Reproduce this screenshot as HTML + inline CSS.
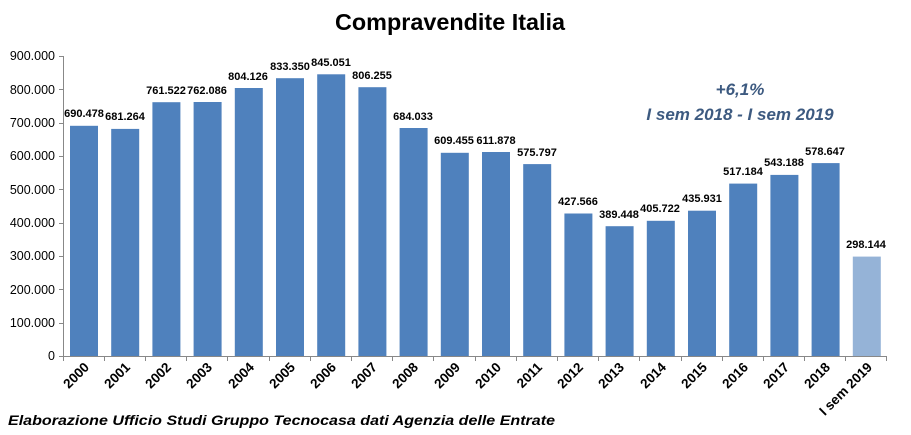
<!DOCTYPE html>
<html><head><meta charset="utf-8"><style>
html,body{margin:0;padding:0;background:#fff;}
svg{display:block;font-family:"Liberation Sans",sans-serif;}
.yl{font-size:12.5px;fill:#000;text-anchor:end;}
.dl{font-size:11px;font-weight:bold;fill:#000;text-anchor:middle;}
.xl{font-size:13.5px;font-weight:bold;fill:#000;text-anchor:end;}
</style></head><body>
<svg width="911" height="435" viewBox="0 0 911 435">
<text x="450" y="30" font-size="23" font-weight="bold" text-anchor="middle" textLength="230" lengthAdjust="spacingAndGlyphs">Compravendite Italia</text>
<g class="yl">
<text x="55" y="360">0</text><text x="55" y="327">100.000</text><text x="55" y="294">200.000</text>
<text x="55" y="260">300.000</text><text x="55" y="227">400.000</text><text x="55" y="194">500.000</text>
<text x="55" y="160">600.000</text><text x="55" y="127">700.000</text><text x="55" y="94">800.000</text>
<text x="55" y="60">900.000</text>
</g>
<g stroke="#888" stroke-width="1">
<line x1="63.5" y1="56" x2="63.5" y2="356"/>
<line x1="59" y1="56.5" x2="63" y2="56.5"/><line x1="59" y1="89.5" x2="63" y2="89.5"/><line x1="59" y1="123.5" x2="63" y2="123.5"/>
<line x1="59" y1="156.5" x2="63" y2="156.5"/><line x1="59" y1="189.5" x2="63" y2="189.5"/><line x1="59" y1="223.5" x2="63" y2="223.5"/>
<line x1="59" y1="256.5" x2="63" y2="256.5"/><line x1="59" y1="289.5" x2="63" y2="289.5"/><line x1="59" y1="323.5" x2="63" y2="323.5"/>
<line x1="59" y1="356.5" x2="887" y2="356.5"/>
<path d="M63.5 356v5M104.5 356v5M145.5 356v5M186.5 356v5M227.5 356v5M269.5 356v5M310.5 356v5M351.5 356v5M392.5 356v5M433.5 356v5M475.5 356v5M516.5 356v5M557.5 356v5M598.5 356v5M639.5 356v5M681.5 356v5M722.5 356v5M763.5 356v5M804.5 356v5M845.5 356v5M886.5 356v5"/>
</g>
<g fill="#4f81bd">
<rect x="70" y="125.8" width="28" height="230.2"/>
<rect x="111.2" y="128.9" width="28" height="227.1"/>
<rect x="152.4" y="102.2" width="28" height="253.8"/>
<rect x="193.6" y="102" width="28" height="254"/>
<rect x="234.8" y="88" width="28" height="268"/>
<rect x="276" y="78.2" width="28" height="277.8"/>
<rect x="317.2" y="74.3" width="28" height="281.7"/>
<rect x="358.4" y="87.2" width="28" height="268.8"/>
<rect x="399.6" y="128" width="28" height="228"/>
<rect x="440.8" y="152.8" width="28" height="203.2"/>
<rect x="482" y="152" width="28" height="204"/>
<rect x="523.2" y="164.1" width="28" height="191.9"/>
<rect x="564.4" y="213.5" width="28" height="142.5"/>
<rect x="605.6" y="226.2" width="28" height="129.8"/>
<rect x="646.8" y="220.8" width="28" height="135.2"/>
<rect x="688" y="210.7" width="28" height="145.3"/>
<rect x="729.2" y="183.6" width="28" height="172.4"/>
<rect x="770.4" y="174.9" width="28" height="181.1"/>
<rect x="811.6" y="163.1" width="28" height="192.9"/>
<rect x="852.8" y="256.6" width="28" height="99.4" fill="#95b3d7"/>
</g>
<g class="dl">
<text x="84" y="117">690.478</text><text x="125" y="120">681.264</text><text x="166" y="94">761.522</text>
<text x="207" y="94">762.086</text><text x="248" y="80">804.126</text><text x="290" y="70">833.350</text>
<text x="331" y="66">845.051</text><text x="372" y="79">806.255</text><text x="413" y="120">684.033</text>
<text x="454" y="144">609.455</text><text x="496" y="144">611.878</text><text x="537" y="156">575.797</text>
<text x="578" y="205">427.566</text><text x="619" y="218">389.448</text><text x="660" y="212">405.722</text>
<text x="702" y="202">435.931</text><text x="743" y="175">517.184</text><text x="784" y="166">543.188</text>
<text x="825" y="155">578.647</text><text x="866" y="248">298.144</text>
</g>
<g class="xl">
<text transform="translate(90,368) rotate(-45)">2000</text>
<text transform="translate(131,368) rotate(-45)">2001</text>
<text transform="translate(172,368) rotate(-45)">2002</text>
<text transform="translate(213,368) rotate(-45)">2003</text>
<text transform="translate(255,368) rotate(-45)">2004</text>
<text transform="translate(296,368) rotate(-45)">2005</text>
<text transform="translate(337,368) rotate(-45)">2006</text>
<text transform="translate(378,368) rotate(-45)">2007</text>
<text transform="translate(419,368) rotate(-45)">2008</text>
<text transform="translate(461,368) rotate(-45)">2009</text>
<text transform="translate(502,368) rotate(-45)">2010</text>
<text transform="translate(543,368) rotate(-45)">2011</text>
<text transform="translate(584,368) rotate(-45)">2012</text>
<text transform="translate(625,368) rotate(-45)">2013</text>
<text transform="translate(667,368) rotate(-45)">2014</text>
<text transform="translate(708,368) rotate(-45)">2015</text>
<text transform="translate(749,368) rotate(-45)">2016</text>
<text transform="translate(790,368) rotate(-45)">2017</text>
<text transform="translate(831,368) rotate(-45)">2018</text>
<text transform="translate(873,368) rotate(-45)">I sem 2019</text>
</g>
<g font-size="17" font-weight="bold" font-style="italic" fill="#3d5a80" text-anchor="middle">
<text x="740" y="95">+6,1%</text>
<text x="740" y="120">I sem 2018 - I sem 2019</text>
</g>
<text x="8" y="425" font-size="14" font-weight="bold" font-style="italic" fill="#000" textLength="547" lengthAdjust="spacingAndGlyphs">Elaborazione  Ufficio Studi Gruppo Tecnocasa dati Agenzia delle Entrate</text>
</svg>
</body></html>
